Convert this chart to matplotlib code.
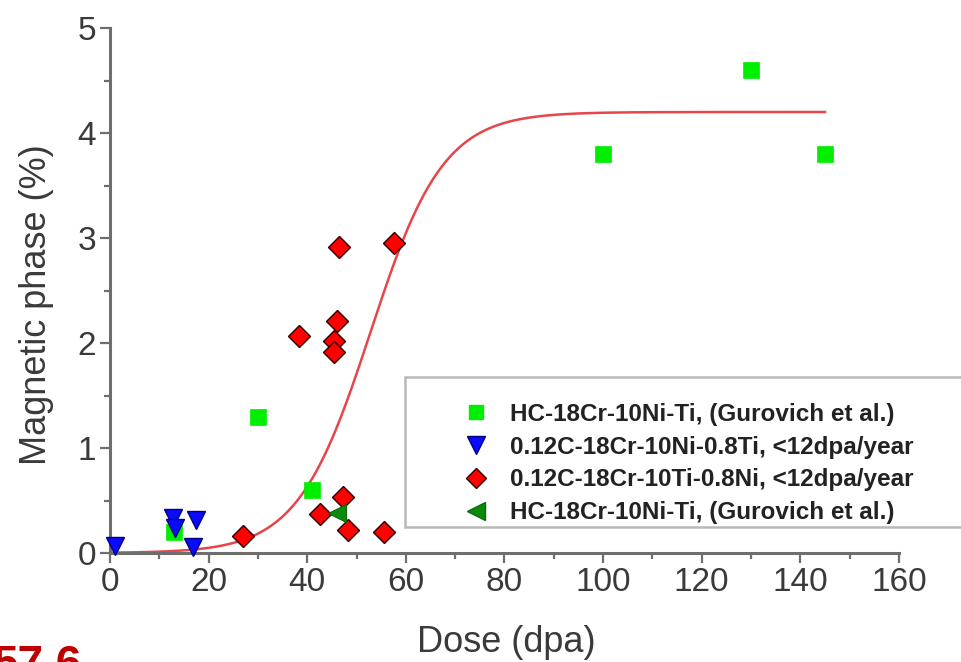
import numpy as np
import matplotlib
matplotlib.use("Agg")
import matplotlib.pyplot as plt
from matplotlib.lines import Line2D
from matplotlib.patches import Rectangle

plt.rcParams["font.family"] = ["Liberation Sans", "DejaVu Sans"]

# --- data -------------------------------------------------------------
gurovich_dose = [130, 100, 145, 30, 41, 13]
gurovich_phase = [4.6, 3.8, 3.8, 1.3, 0.6, 0.2]

ti08_dose = [1, 12.8, 13.2, 17.4, 16.9]
ti08_phase = [0.07, 0.33, 0.24, 0.31, 0.06]

ni08_dose = [27, 38.3, 46.5, 57.5, 46.0, 45.4, 45.4, 42.6, 47.3, 48.3, 55.6]
ni08_phase = [0.16, 2.07, 2.91, 2.95, 2.21, 2.02, 1.91, 0.37, 0.53, 0.22, 0.20]

gurovich2_dose = [46]
gurovich2_phase = [0.38]

# Boltzmann fit of the whole data set
fit_a1, fit_a2 = 0.0, 4.2
fit_x0, fit_dx = 52.8, 7.4
fit_range = (0, 145)

labels = [
    "HC-18Cr-10Ni-Ti, (Gurovich et al.)",
    "0.12C-18Cr-10Ni-0.8Ti, <12dpa/year",
    "0.12C-18Cr-10Ti-0.8Ni, <12dpa/year",
    "HC-18Cr-10Ni-Ti, (Gurovich et al.)",
]
x_ticks = [0, 20, 40, 60, 80, 100, 120, 140, 160]
y_ticks = [0, 1, 2, 3, 4, 5]

# --- figure -----------------------------------------------------------
W, H = 962, 662
fig = plt.figure(figsize=(W / 100, H / 100), dpi=100)
fig.patch.set_facecolor("white")
ax = fig.add_axes([110 / W, 1 - 553 / H, 789 / W, 525 / H])

axis_grey = "#6e6e6e"
text_grey = "#3a3a3a"

xf = np.linspace(fit_range[0], fit_range[1], 400)
yf = fit_a2 + (fit_a1 - fit_a2) / (1 + np.exp((xf - fit_x0) / fit_dx))
ax.plot(xf, yf, color="#e8454a", lw=1.8, zorder=2)

ax.plot(gurovich_dose, gurovich_phase, ls="none", marker="s", ms=11.5,
        mfc="#00ee00", mec="#00ee00", mew=0.5, zorder=3, clip_on=False)
ax.plot(ti08_dose, ti08_phase, ls="none", marker="v", ms=13,
        mfc="#0a0aff", mec="#00007a", mew=1.0, zorder=4, clip_on=False)
ax.plot(ni08_dose, ni08_phase, ls="none", marker="D", ms=11,
        mfc="#ff0000", mec="#2a0000", mew=1.0, zorder=5, clip_on=False)
ax.plot(gurovich2_dose, gurovich2_phase, ls="none", marker="<", ms=13,
        mfc="#0a8a0a", mec="#0a6a0a", mew=0.8, zorder=6, clip_on=False)

ax.set_xlim(0, 160)
ax.set_ylim(0, 5)
ax.set_xticks(x_ticks)
ax.set_yticks(y_ticks)
ax.set_xticks(np.arange(10, 160, 20), minor=True)
ax.set_yticks(np.arange(0.5, 5, 1.0), minor=True)

for side in ("top", "right"):
    ax.spines[side].set_visible(False)
for side in ("left", "bottom"):
    ax.spines[side].set_color(axis_grey)
    ax.spines[side].set_linewidth(2.2)

ax.tick_params(which="major", direction="out", length=7, width=1.6,
               color=axis_grey, labelsize=24, labelcolor=text_grey, pad=3)
ax.tick_params(which="minor", direction="out", length=4, width=1.6,
               color=axis_grey)

fig.text(506 / W, 1 - 643 / H, "Dose (dpa)", fontsize=26, color=text_grey,
         ha="center", va="center")
fig.text(37 / W, 1 - 305 / H, "Magnetic phase (%)", fontsize=26,
         color=text_grey, ha="center", va="center", rotation=90)

# legend box (runs off the right edge)
ax.add_patch(Rectangle((405 / W, 1 - 527 / H), 600 / W, 150 / H,
                       transform=fig.transFigure, facecolor="white",
                       edgecolor="#b8b8b8", lw=1.8, zorder=7, clip_on=False))
handles = [
    Line2D([], [], ls="none", marker="s", ms=10.5, mfc="#00ee00", mec="#00ee00"),
    Line2D([], [], ls="none", marker="v", ms=12.5, mfc="#0a0aff", mec="#00007a"),
    Line2D([], [], ls="none", marker="D", ms=10.5, mfc="#ff0000", mec="#2a0000"),
    Line2D([], [], ls="none", marker="<", ms=12.5, mfc="#0a8a0a", mec="#0a6a0a"),
]
leg = ax.legend(handles, labels, loc="upper left",
                bbox_to_anchor=(464 / W, 1 - 403 / H),
                bbox_transform=fig.transFigure, frameon=False,
                prop={"size": 17.5, "weight": "bold"}, handlelength=1.0,
                handletextpad=0.9, labelspacing=0.4, borderpad=0,
                borderaxespad=0)
leg.set_zorder(8)
for t in leg.get_texts():
    t.set_color("#222222")

fig.text(-7 / W, 1 - 678 / H, "57.6", fontsize=33, fontweight="bold",
         color="#c00000", ha="left", va="baseline")

fig.savefig("out.png", dpi=100, facecolor="white")
